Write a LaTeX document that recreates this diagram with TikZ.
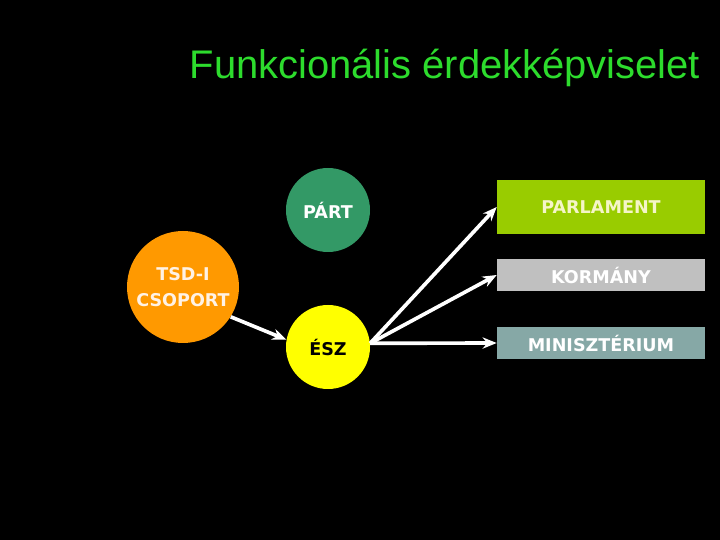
\documentclass[tikz,border=0pt]{standalone}
\usepackage{fontspec}
\setmainfont{Liberation Sans}
\newfontfamily\boxfont{DejaVu Sans}
\usetikzlibrary{arrows.meta}
\definecolor{titlegreen}{RGB}{45, 220, 45}
\definecolor{partgreen} {RGB}{51, 153, 102}
\definecolor{tsdorange} {RGB}{255, 153, 0}
\definecolor{eszyellow} {RGB}{255, 255, 0}
\definecolor{parlgreen} {RGB}{153, 204, 0}
\definecolor{kormgray}  {RGB}{192, 192, 192}
\definecolor{minteal}   {RGB}{134, 168, 166}
\definecolor{paletext}  {RGB}{245, 245, 200}

\begin{document}
\begin{tikzpicture}[
    font=\boxfont\bfseries\fontsize{12.5}{18.5}\selectfont,
    blob/.style={circle, inner sep=0pt, minimum size=2.1cm, align=center},
    inst/.style={rectangle, inner sep=0pt, minimum width=5.2cm, minimum height=0.8cm},
    link/.style={-{Stealth[length=10pt, width=8pt]}, white, line width=2.6pt}]
  % background
  \fill[black] (0,0) rectangle (18,13.5);
  \useasboundingbox (0,0) rectangle (18,13.5);
  % title
  \node[titlegreen, font=\fontsize{28.4}{34}\selectfont] (title) at (11.125,11.8) {Funkcionális érdekképviselet};
  % actors
  \node[blob, fill=partgreen, text=white] (part) at (8.2,8.25) {PÁRT};
  \node[blob, fill=tsdorange, text=white!90!orange, minimum size=2.8cm] (tsd) at (4.575,6.325) {TSD-I\\CSOPORT};
  \node[blob, fill=eszyellow, text=black] (esz) at (8.2,4.825) {ÉSZ};
  % institutions
  \node[inst, fill=parlgreen, text=paletext, minimum height=1.35cm] (parl) at (15.025,8.325) {PARLAMENT};
  \node[inst, fill=kormgray, text=white] (korm) at (15.025,6.625) {KORMÁNY};
  \node[inst, fill=minteal, text=white] (min) at (15.025,4.925) {MINISZTÉRIUM};
  % connectors
  \coordinate (out) at (esz.5);
  \draw[link] (tsd.-32) -- (esz.170);
  \draw[link] (out) -- (parl.west);
  \draw[link] (out) -- (korm.west);
  \draw[link] (out) -- (min.west);
\end{tikzpicture}
\end{document}
